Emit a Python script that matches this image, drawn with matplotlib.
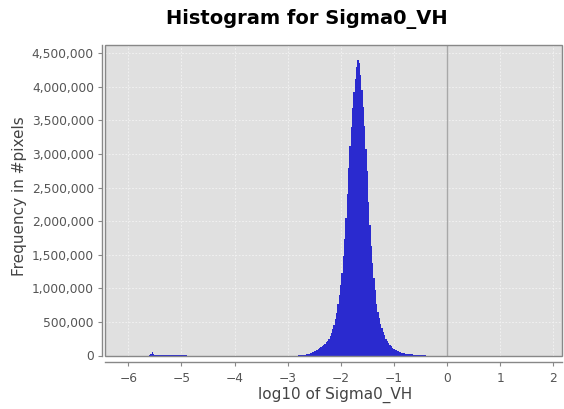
import matplotlib
matplotlib.use("Agg")
import matplotlib.pyplot as plt
from matplotlib.patches import Rectangle
from matplotlib.ticker import FuncFormatter

# ---- data ----
bin_width = 0.025
# low-value bins on the far left, centers from -5.600 step 0.025
left_start = -5.600
left_counts = [
    10, 22, 45, 20, 9, 8, 8, 7, 7, 8, 8, 9, 9, 10, 10, 10, 11, 10, 10, 9,
    9, 8, 8, 7, 6, 6, 5, 5, 4,
]  # thousands

# main peak bins, centers from -2.800 to -0.400 step 0.025
main_start = -2.800
main_counts = [
    5, 6, 7, 9, 10, 13, 17, 22, 28, 34, 42, 50, 60, 72, 88, 100, 112, 126, 145, 160,
    178, 198, 220, 245, 290, 340, 395, 455, 540, 640, 760, 900, 1050, 1230, 1480, 1740,
    2040, 2400, 2790, 3120, 3400, 3690, 3920, 4120, 4300, 4400, 4350, 4180, 3960, 3700,
    3410, 3070, 2740, 2290, 1940, 1630, 1380, 1150, 975, 760, 650, 560, 470, 410, 350,
    300, 250, 215, 180, 155, 135, 115, 100, 88, 76, 66, 57, 50, 43, 38, 33, 29, 25, 22,
    19, 17, 15, 13, 12, 10, 9, 8, 7, 6, 6, 5, 5,
]  # thousands

x_ticks = [-6, -5, -4, -3, -2, -1, 0, 1, 2]
y_ticks = [0, 500000, 1000000, 1500000, 2000000, 2500000, 3000000, 3500000, 4000000, 4500000]

title = "Histogram for Sigma0_VH"
xlabel = "log10 of Sigma0_VH"
ylabel = "Frequency in #pixels"

# ---- build ----
left_centers = [round(left_start + i * bin_width, 4) for i in range(len(left_counts))]
main_centers = [round(main_start + i * bin_width, 4) for i in range(len(main_counts))]
centers = left_centers + main_centers
counts = [c * 1000 for c in left_counts + main_counts]

W, H = 564, 409
fig = plt.figure(figsize=(W / 100, H / 100), dpi=100)
fig.patch.set_facecolor("white")

ax = fig.add_axes([105.3 / W, (409 - 355.5) / H, (562 - 105.3) / W, (355.5 - 45) / H])
ax.set_facecolor("#e0e0e0")

ax.set_xlim(-6.433, 2.164)
ax.set_ylim(0, 4623000)

ax.set_xticks(x_ticks)
ax.set_yticks(y_ticks)

ax.grid(True, color="#f4f4f4", linestyle=(0, (2, 2)), linewidth=0.6)
ax.set_axisbelow(True)
ax.axvline(0, color="#a8a8a8", linewidth=1.0, zorder=1)

ax.bar(centers, counts, width=bin_width, color="#2a2acf", edgecolor="#2a2acf",
       linewidth=0.0, zorder=2)

# frame around plot
ax.add_patch(Rectangle((0, 0), 1, 1, transform=ax.transAxes, fill=False,
                       edgecolor="#888888", linewidth=1.0, zorder=5, clip_on=False))

for s in ["top", "right"]:
    ax.spines[s].set_visible(False)
ax.spines["left"].set_position(("outward", 2.2))
ax.spines["bottom"].set_position(("outward", 4.7))
for s in ["left", "bottom"]:
    ax.spines[s].set_color("#888888")
    ax.spines[s].set_linewidth(1.0)

ax.yaxis.set_major_formatter(FuncFormatter(lambda v, p: f"{int(round(v)):,}"))
ax.tick_params(axis="both", colors="#888888", length=3, width=0.8, labelsize=8.8,
               labelcolor="#555555")
ax.tick_params(axis="x", pad=4)
ax.tick_params(axis="y", pad=3)

ax.set_xlabel(xlabel, fontsize=11, color="#444444")
ax.set_ylabel(ylabel, fontsize=11, color="#444444")
ax_h = 355.5 - 45
ax_w = 562 - 105.3
ax.xaxis.set_label_coords((335 - 105.3) / ax_w, -(387 - 355.5) / ax_h,
                          transform=ax.transAxes)
ax.yaxis.set_label_coords(-(105.3 - 27) / ax_w, (355.5 - 196) / ax_h,
                          transform=ax.transAxes)

fig.text(307 / W, 1 - 19 / H, title, ha="center", va="center", fontsize=14,
         fontweight="bold", color="black")

fig.savefig("out.png", dpi=100)
